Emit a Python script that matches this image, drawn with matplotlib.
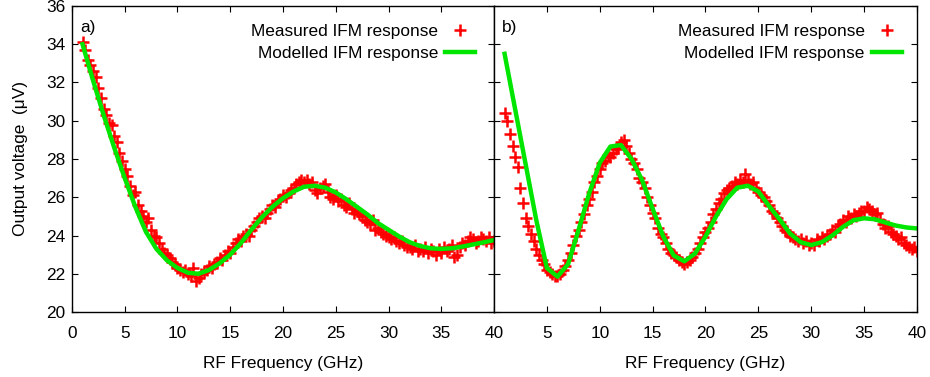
import numpy as np
import matplotlib.pyplot as plt

plt.rcParams['font.family'] = ['Liberation Sans', 'DejaVu Sans']
plt.rcParams['font.size'] = 12.4

# measured points, 0.25 GHz spacing from 1 to 40 GHz
freq_meas = np.arange(1.0, 40.01, 0.25)

meas_a = [
    34.1, 33.7, 33.2, 32.9, 32.6, 32.3, 31.7, 31.2, 30.6, 30.3, 29.9, 29.8,
    29.2, 28.9, 28.3, 27.9, 27.5, 27.1, 26.6, 26.1, 26.3, 25.6, 25.3, 25.0,
    24.7, 24.9, 24.3, 24.0, 23.9, 23.6, 23.3, 23.1, 23.0, 22.8, 22.6, 22.5,
    22.3, 22.2, 22.1, 22.2, 22.0, 21.9, 22.3, 21.6, 21.8, 22.0, 22.1, 22.2,
    22.4, 22.3, 22.5, 22.6, 22.8, 22.7, 23.0, 23.2, 23.1, 23.4, 23.6, 23.8,
    23.7, 24.0, 24.1, 24.0, 24.3, 24.5, 24.7, 24.9, 25.0, 24.9, 25.2, 25.4,
    25.6, 25.5, 25.8, 25.9, 26.1, 26.0, 26.2, 26.4, 26.5, 26.7, 26.8, 26.9,
    26.8, 26.9, 26.7, 26.8, 26.4, 26.2, 26.5, 26.6, 26.7, 26.3, 26.0, 25.9,
    26.1, 25.8, 25.9, 25.6, 25.5, 25.7, 25.4, 25.2, 25.3, 25.1, 25.0, 24.8,
    24.7, 24.6, 24.8, 24.3, 24.4, 24.2, 24.1, 24.0, 23.9, 23.8, 23.9, 23.7,
    23.6, 23.7, 23.5, 23.4, 23.4, 23.3, 23.5, 23.2, 23.3, 23.2, 23.4, 23.1,
    23.3, 23.2, 23.0, 23.3, 23.1, 23.4, 23.2, 23.3, 23.5, 22.9, 23.0, 23.4,
    23.6, 23.5, 23.7, 23.9, 23.8, 23.6, 23.7, 23.9, 23.8, 23.7, 23.9, 23.6,
    23.7,
]

meas_b = [
    30.4, 30.0, 29.3, 28.7, 28.1, 27.6, 26.5, 25.7, 24.9, 24.5, 24.1, 23.7,
    23.3, 23.0, 22.7, 22.5, 22.2, 22.1, 22.0, 21.9, 21.9, 22.0, 22.2, 22.4,
    22.7, 23.1, 23.5, 24.0, 24.3, 24.7, 25.1, 25.6, 25.9, 26.3, 26.8, 27.1,
    27.5, 27.8, 27.9, 28.2, 28.1, 28.3, 28.5, 28.6, 28.9, 29.0, 28.7, 28.3,
    28.0, 27.8, 27.5, 27.0, 26.8, 26.5, 26.0, 25.6, 25.2, 24.9, 24.4, 24.1,
    23.9, 23.6, 23.3, 23.1, 23.0, 22.9, 22.7, 22.6, 22.5, 22.6, 22.7, 22.9,
    23.1, 23.3, 23.6, 23.9, 24.2, 24.4, 24.7, 25.1, 25.4, 25.7, 25.9, 26.2,
    26.4, 26.5, 26.6, 26.8, 26.7, 26.9, 26.8, 27.2, 26.9, 26.7, 26.8, 26.5,
    26.3, 26.1, 26.0, 25.8, 25.6, 25.3, 25.2, 24.9, 24.7, 24.5, 24.3, 24.2,
    24.0, 23.9, 23.8, 23.7, 23.8, 23.6, 23.7, 23.5, 23.6, 23.5, 23.8, 23.7,
    23.9, 23.8, 24.0, 24.1, 24.3, 24.2, 24.5, 24.6, 24.8, 24.7, 25.0, 24.9,
    25.1, 25.0, 25.2, 25.3, 25.3, 25.5, 25.4, 25.3, 25.1, 25.2, 24.8, 24.6,
    24.4, 24.5, 24.2, 24.1, 24.0, 23.8, 23.9, 23.6, 23.5, 23.4, 23.3, 23.4,
    23.2,
]

# modelled response, 1 GHz spacing
freq_model = np.arange(1, 41)

model_a = [
    34.0, 32.1, 30.3, 28.6, 27.0, 25.5, 24.2, 23.3, 22.7, 22.3,
    22.05, 22.0, 22.2, 22.55, 23.0, 23.6, 24.3, 24.95, 25.5, 25.95,
    26.3, 26.55, 26.6, 26.5, 26.25, 25.9, 25.5, 25.1, 24.65, 24.3,
    23.95, 23.65, 23.45, 23.33, 23.3, 23.33, 23.42, 23.53, 23.64, 23.76,
]

model_b = [
    33.5, 30.6, 27.7, 24.8, 22.3, 21.85, 22.5, 24.3, 26.2, 27.8,
    28.65, 28.73, 28.0, 26.9, 25.4, 23.95, 22.95, 22.65, 23.05, 23.95,
    25.0, 25.9, 26.5, 26.6, 26.3, 25.55, 24.85, 24.1, 23.65, 23.5,
    23.65, 24.0, 24.45, 24.8, 24.9, 24.85, 24.68, 24.52, 24.42, 24.37,
]

fig = plt.figure(figsize=(9.3, 3.77), dpi=100)
ax_a = fig.add_axes([0.0774, 0.1724, 0.4538, 0.8117])
ax_b = fig.add_axes([0.5312, 0.1724, 0.4548, 0.8117])

panels = [(ax_a, meas_a, model_a, 'a)', 0.955),
          (ax_b, meas_b, model_b, 'b)', 0.964)]
for ax, meas, model, tag, leg_x in panels:
    ax.plot(freq_meas, meas, linestyle='none', marker='+', color='#ff0000',
            markersize=8, markeredgewidth=1.8, label='Measured IFM response')
    ax.plot(freq_model, model, color='#00e600', linewidth=3.2,
            label='Modelled IFM response')
    ax.set_xlim(0, 40)
    ax.set_ylim(20, 36)
    ax.set_xticks(range(0, 41, 5))
    ax.set_yticks(range(20, 37, 2))
    ax.tick_params(direction='in', top=True, right=True, length=4, width=0.8)
    ax.tick_params(axis='x', pad=10)
    ax.tick_params(axis='y', pad=5)
    for sp in ax.spines.values():
        sp.set_linewidth(1.0)
    ax.set_xlabel('RF Frequency (GHz)', labelpad=11)
    ax.text(0.019, 0.93, tag, transform=ax.transAxes, va='center', ha='left')
    ax.legend(loc='upper right', bbox_to_anchor=(leg_x, 0.942),
              frameon=False, markerfirst=False,
              handlelength=1.75, handletextpad=0.4, labelspacing=0.42,
              borderaxespad=0, borderpad=0)

ax_a.set_ylabel('Output voltage  (\u03bcV)', labelpad=13)
ax_b.set_yticklabels([])
ax_b.set_xticks(range(5, 41, 5))

fig.savefig('out.png', dpi=100)
